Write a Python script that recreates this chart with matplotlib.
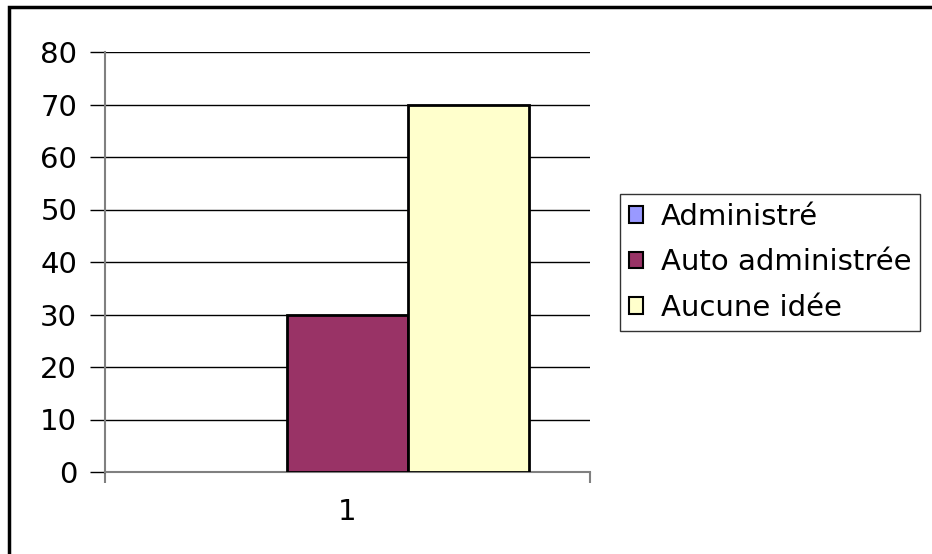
import matplotlib
matplotlib.use('Agg')
import matplotlib.pyplot as plt
from matplotlib.patches import Rectangle
import numpy as np

# chart data
categories = ['1']
series_names = ['Administré', 'Auto administrée', 'Aucune idée']
series_values = [[0], [30], [70]]
series_colors = ['#9999FF', '#993366', '#FFFFCC']
y_ticks = [0, 10, 20, 30, 40, 50, 60, 70, 80]

W, H = 932, 554
fig = plt.figure(figsize=(W / 100, H / 100), dpi=100)
plt.rcParams['font.family'] = ['DejaVu Sans']

# outer chart frame (only top/left visible in the reference)
fig.patches.append(Rectangle((9 / W, -0.05), 1.1, 1 - 7 / H + 0.05, transform=fig.transFigure,
                             fill=False, edgecolor='black', linewidth=2.5, zorder=0))

ax = fig.add_axes([105 / W, (H - 472) / H, 485 / W, 420 / H])

x = np.arange(len(categories))
width = 0.25
for i, (name, vals, col) in enumerate(zip(series_names, series_values, series_colors)):
    bars = ax.bar(x + (i - 1) * width, vals, width, color=col, edgecolor='black', linewidth=2,
                  label=name, zorder=3)
    for b, v in zip(bars, vals):
        if v == 0:
            b.set_linewidth(0)

ax.set_xlim(-0.5, len(categories) - 0.5)
ax.set_ylim(0, 80)
ax.set_yticks(y_ticks)
ax.yaxis.grid(True, color='black', linewidth=1, zorder=0)
ax.set_axisbelow(True)

for s in ['top', 'right']:
    ax.spines[s].set_visible(False)
ax.spines['left'].set_color('#808080')
ax.spines['bottom'].set_color('#808080')
ax.spines['left'].set_linewidth(1.5)
ax.spines['bottom'].set_linewidth(1.5)

ax.tick_params(axis='y', length=11, width=1, color='black', pad=9, labelsize=21)
# category boundaries as x ticks, label centred on category
ax.set_xticks([-0.5, 0.5])
ax.set_xticklabels([])
ax.set_xticks(x, minor=True)
ax.set_xticklabels(categories, minor=True, fontsize=21)
ax.tick_params(axis='x', which='major', length=8, width=1.5, color='#808080')
ax.tick_params(axis='x', which='minor', length=0, pad=19)

leg = ax.legend(loc='upper left', bbox_to_anchor=(620 / W, 1 - 194 / H),
                bbox_transform=fig.transFigure, fontsize=21, frameon=True, fancybox=False,
                borderaxespad=0, handlelength=0.5, handleheight=0.5, handletextpad=0.6,
                labelspacing=0.6, borderpad=0.3)
leg.get_frame().set_edgecolor('black')
leg.get_frame().set_linewidth(1)
for h in leg.legend_handles:
    h.set_linewidth(1.5)

fig.savefig('out.png', dpi=100)
